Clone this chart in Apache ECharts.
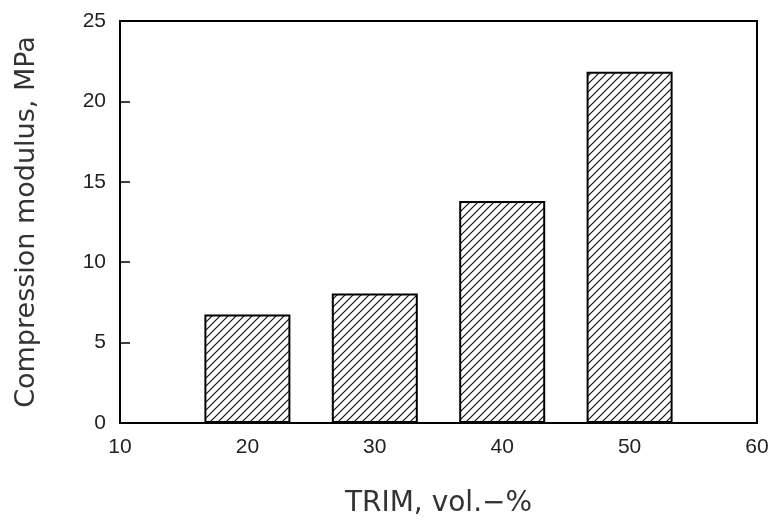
<!DOCTYPE html>
<html>
<head>
<meta charset="utf-8">
<script src="https://cdn.jsdelivr.net/npm/echarts@6/dist/echarts.min.js"></script>
<style>html,body{margin:0;padding:0;background:#fff}#c{width:776px;height:523px}</style>
</head>
<body>
<div id="c"></div>
<script>
const trimContent = [20, 30, 40, 50];
const compressionModulus = [6.75, 8.05, 13.8, 21.85];
const xTicks = [10, 20, 30, 40, 50, 60];
const yTicks = [0, 5, 10, 15, 20, 25];

function hatch() {
  const s = 8;
  const c = document.createElement('canvas');
  c.width = s; c.height = s;
  const g = c.getContext('2d');
  g.fillStyle = '#fff';
  g.fillRect(0, 0, s, s);
  g.strokeStyle = '#111';
  g.lineWidth = 1.2;
  g.beginPath();
  g.moveTo(-1, s + 1); g.lineTo(s + 1, -1);
  g.moveTo(-2, 2); g.lineTo(2, -2);
  g.moveTo(s - 2, s + 2); g.lineTo(s + 2, s - 2);
  g.stroke();
  return c;
}

const chart = echarts.init(document.getElementById('c'), null, {renderer: 'canvas'});
chart.setOption({
  animation: false,
  grid: {left: 120, right: 19, top: 21, bottom: 98, show: true, borderColor: '#000', borderWidth: 2, backgroundColor: 'transparent'},
  xAxis: {
    type: 'value', min: xTicks[0], max: xTicks[xTicks.length - 1], interval: 10,
    name: 'TRIM, vol.\u2212%', nameLocation: 'middle', nameGap: 67,
    nameTextStyle: {fontFamily: 'DejaVu Sans', fontSize: 28, color: '#333'},
    axisLine: {show: true, lineStyle: {color: '#000', width: 2}},
    axisTick: {show: false},
    splitLine: {show: false},
    axisLabel: {fontFamily: 'Liberation Sans', fontSize: 21, color: '#222', margin: 14}
  },
  yAxis: {
    type: 'value', min: yTicks[0], max: yTicks[yTicks.length - 1], interval: 5,
    name: 'Compression modulus, MPa', nameLocation: 'middle', nameGap: 80, nameRotate: 90,
    nameTextStyle: {fontFamily: 'DejaVu Sans', fontSize: 27, color: '#333'},
    axisLine: {show: true, lineStyle: {color: '#000', width: 2}},
    axisTick: {show: true, inside: true, length: 10, lineStyle: {color: '#000', width: 1.5}},
    splitLine: {show: false},
    axisLabel: {fontFamily: 'Liberation Sans', fontSize: 21, color: '#222', margin: 14}
  },
  series: [{
    type: 'bar',
    data: trimContent.map((x, i) => [x, compressionModulus[i]]),
    barWidth: 86,
    itemStyle: {color: {image: hatch(), repeat: 'repeat'}, borderColor: '#000', borderWidth: 2}
  }]
});
</script>
</body>
</html>
